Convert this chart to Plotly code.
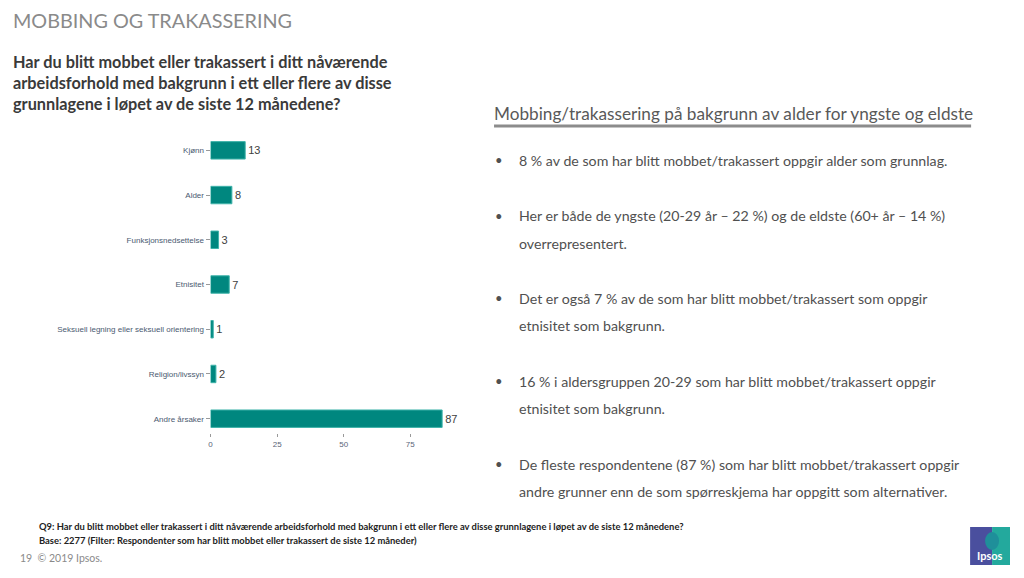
import plotly.graph_objects as go

W, H = 1024, 578

# data (top to bottom as shown)
categories = ["Kjønn", "Alder", "Funksjonsnedsettelse", "Etnisitet",
              "Seksuell legning eller seksuell orientering", "Religion/livssyn",
              "Andre årsaker"]
values = [13, 8, 3, 7, 1, 2, 87]
x_ticks = [0, 25, 50, 75]

bullets = [
    ["8 % av de som har blitt mobbet/trakassert oppgir alder som grunnlag."],
    ["Her er både de yngste (20-29 år – 22 %) og de eldste (60+ år – 14 %)",
     "overrepresentert."],
    ["Det er også 7 % av de som har blitt mobbet/trakassert som oppgir",
     "etnisitet som bakgrunn."],
    ["16 % i aldersgruppen 20-29 som har blitt mobbet/trakassert oppgir",
     "etnisitet som bakgrunn."],
    ["De fleste respondentene (87 %) som har blitt mobbet/trakassert oppgir",
     "andre grunner enn de som spørreskjema har oppgitt som alternativer."],
]


def px(x):
    return x / W


def py(y):
    return 1 - y / H


fig = go.Figure()
fig.add_trace(go.Bar(
    y=categories[::-1], x=values[::-1], orientation="h",
    marker=dict(color="#00877f", line=dict(color="#3fb3aa", width=1)),
    width=0.39,
    text=values[::-1], textposition="outside", cliponaxis=False,
    textfont=dict(size=11, color="#404040", family="Liberation Sans"),
    hoverinfo="skip",
))

fig.update_xaxes(domain=[px(209), px(209 + 92 * 200 / 75)], range=[0, 92],
                 tickvals=x_ticks, ticks="outside", ticklen=3, tickcolor="#999999",
                 showgrid=False, zeroline=False, showline=False,
                 tickfont=dict(size=8, color="#5a6478", family="Liberation Sans"))
fig.update_yaxes(domain=[py(433), py(123.5)], range=[-0.32, 6.6],
                 categoryorder="array", categoryarray=categories[::-1],
                 ticks="outside", ticklen=4, tickcolor="#999999",
                 showgrid=False, zeroline=False, showline=False,
                 tickfont=dict(size=8, color="#4a5a70", family="Liberation Sans"))

ann = []


def txt(x, y, s, size, color, bold=False, family="Lato"):
    if bold:
        s = "<b>" + s + "</b>"
    ann.append(dict(x=px(x), y=py(y), xref="paper", yref="paper", text=s,
                    showarrow=False, xanchor="left", yanchor="middle",
                    font=dict(size=size, color=color, family=family)))


txt(9, 20, "MOBBING OG TRAKASSERING", 19.8, "#8a8a8a")
q_lines = ["Har du blitt mobbet eller trakassert i ditt nåværende",
           "arbeidsforhold med bakgrunn i ett eller flere av disse",
           "grunnlagene i løpet av de siste 12 månedene?"]
for i, line in enumerate(q_lines):
    txt(9, 62 + i * 21, line, 16.3, "#3a3a3a", bold=True)

txt(491, 113, "Mobbing/trakassering på bakgrunn av alder for yngste og eldste", 17.2, "#595959")

y_starts = [160, 216, 298, 381, 464]
for y0, lines in zip(y_starts, bullets):
    txt(492, y0, "•", 13, "#505050")
    for j, line in enumerate(lines):
        txt(516, y0 + j * 27, line, 14.2, "#505050")

txt(35, 526, "Q9: Har du blitt mobbet eller trakassert i ditt nåværende arbeidsforhold med bakgrunn i ett eller flere av disse grunnlagene i løpet av de siste 12 månedene?",
    9.4, "#222222", bold=True)
txt(35, 540, "Base: 2277 (Filter: Respondenter som har blitt mobbet eller trakassert de siste 12 måneder)",
    9.4, "#222222", bold=True)
txt(16, 558, "19  © 2019 Ipsos.", 10.5, "#8a8a8a")

# Ipsos logo
ann.append(dict(x=px(990), y=py(555), xref="paper", yref="paper", text="<b>Ipsos</b>",
                showarrow=False, xanchor="center", yanchor="middle",
                font=dict(size=11, color="white", family="Lato")))

shapes = [
    dict(type="line", xref="paper", yref="paper", x0=px(493), x1=px(971),
         y0=py(126), y1=py(126), line=dict(color="#8c8c8c", width=3)),
    dict(type="rect", xref="paper", yref="paper", x0=px(970), x1=px(992),
         y0=py(565), y1=py(527), fillcolor="#4a4f9e", line=dict(width=0)),
    dict(type="rect", xref="paper", yref="paper", x0=px(992), x1=px(1010),
         y0=py(565), y1=py(527), fillcolor="#23a99d", line=dict(width=0)),
    dict(type="circle", xref="paper", yref="paper", x0=px(985), x1=px(999),
         y0=py(550), y1=py(532), fillcolor="#1f8f9a", line=dict(width=0)),
]

fig.update_layout(width=W, height=H, margin=dict(l=0, r=0, t=0, b=0),
                  paper_bgcolor="white", plot_bgcolor="white",
                  showlegend=False, annotations=ann, shapes=shapes,
                  bargap=0.6)

fig.write_html("out.html", config={"displayModeBar": False},
               post_script="document.body.style.margin='0';")
